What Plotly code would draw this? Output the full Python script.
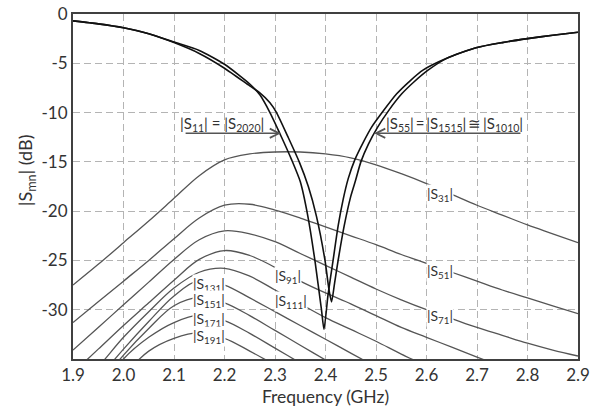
import plotly.graph_objects as go

# ---------------- data ----------------
freq = [1.90, 1.95, 2.00, 2.05, 2.10, 2.15, 2.20, 2.25, 2.30, 2.35, 2.40,
        2.45, 2.50, 2.55, 2.60, 2.65, 2.70, 2.75, 2.80, 2.85, 2.90]

s31 = [-27.5, -25.4, -23.2, -21.0, -18.7, -16.4, -14.8, -14.2, -14.0, -14.0, -14.2,
       -14.6, -15.3, -16.2, -17.2, -18.3, -19.4, -20.4, -21.4, -22.3, -23.2]
s51 = [-31.3, -29.2, -27.1, -25.0, -22.8, -20.7, -19.4, -19.3, -19.9, -20.7, -21.6,
       -22.5, -23.4, -24.4, -25.3, -26.2, -27.1, -28.0, -28.8, -29.6, -30.4]
s71 = [-34.1, -31.8, -29.5, -27.2, -24.9, -22.9, -22.0, -22.3, -23.1, -24.3, -25.5,
       -26.7, -27.9, -29.0, -30.0, -30.9, -31.8, -32.6, -33.4, -34.1, -34.7]
s91 = [-36.4, -34.0, -31.6, -29.3, -27.0, -24.9, -24.0, -24.5, -25.7, -27.1, -28.3,
       -29.4, -30.6, -31.8, -32.8, -33.8, -34.8, -35.8, -36.8, -37.8, -38.8]
s111 = [-38.5, -35.8, -32.8, -30.2, -27.8, -26.2, -25.8, -26.6, -28.0, -29.4, -30.8,
        -32.0, -33.2, -34.5, -35.7, -36.9, -38.1, -39.3, -40.5, -41.7, -42.9]
s131 = [-40.0, -37.0, -34.0, -31.2, -28.6, -27.0, -27.5, -28.8, -30.2, -31.6, -33.0,
        -34.4, -35.8, -37.2, -38.6, -40.0, -41.4, -42.8, -44.2, -45.6, -47.0]
s151 = [-41.0, -37.8, -34.6, -31.9, -29.6, -28.75, -29.3, -30.6, -32.1, -33.6, -35.1,
        -36.6, -38.1, -39.6, -41.1, -42.6, -44.1, -45.6, -47.1, -48.6, -50.1]
s171 = [-42.0, -38.5, -35.0, -32.8, -31.3, -30.55, -31.1, -32.4, -33.9, -35.4, -36.9,
        -38.4, -39.9, -41.4, -42.9, -44.4, -45.9, -47.4, -48.9, -50.4, -51.9]
s191 = [-43.5, -40.0, -36.7, -34.2, -32.9, -32.35, -32.9, -34.2, -35.6, -37.0, -38.4,
        -39.8, -41.2, -42.6, -44.0, -45.4, -46.8, -48.2, -49.6, -51.0, -52.4]

# |S11| = |S2020|
fa = [1.90, 1.95, 2.00, 2.05, 2.10, 2.15, 2.20, 2.25, 2.27, 2.29, 2.313, 2.333,
      2.35, 2.365, 2.379, 2.392, 2.397, 2.405, 2.415, 2.425, 2.435, 2.445, 2.458,
      2.475, 2.491, 2.515, 2.541, 2.567, 2.593, 2.64, 2.70, 2.75, 2.80, 2.85, 2.90]
sa = [-0.7, -1.0, -1.4, -2.0, -2.85, -3.7, -5.1, -7.1, -8.2, -10.0, -12.5, -14.8,
      -17.0, -20.5, -25.0, -30.0, -32.0, -28.5, -25.0, -21.5, -18.8, -16.7, -14.8,
      -13.0, -11.5, -9.8, -8.1, -6.8, -5.7, -4.5, -3.4, -2.9, -2.5, -2.15, -1.85]

# |S55| = |S1515| ~ |S1010|
fb = [1.90, 1.95, 2.00, 2.05, 2.10, 2.15, 2.20, 2.25, 2.27, 2.29, 2.303, 2.326,
      2.348, 2.366, 2.382, 2.399, 2.407, 2.412, 2.418, 2.425, 2.437, 2.45, 2.46,
      2.47, 2.485, 2.503, 2.525, 2.551, 2.575, 2.603, 2.64, 2.70, 2.75, 2.80, 2.85, 2.90]
sb = [-0.7, -1.0, -1.4, -2.0, -2.9, -4.0, -5.5, -7.3, -8.0, -9.0, -10.0, -12.5,
      -15.0, -17.5, -20.5, -25.0, -28.0, -29.2, -27.3, -25.0, -21.5, -18.5, -16.8,
      -15.0, -13.2, -11.5, -9.8, -8.1, -6.9, -5.7, -4.5, -3.4, -2.9, -2.5, -2.15, -1.85]

x_ticks = [1.9, 2.0, 2.1, 2.2, 2.3, 2.4, 2.5, 2.6, 2.7, 2.8, 2.9]
x_ticktext = ["1.9", "2.0", "2.1", "2.2", "2.3", "2.4", "2.5", "2.6", "2.7", "2.8", "2.9"]
y_ticks = [0, -5, -10, -15, -20, -25, -30]
y_ticktext = ["0", "-5", "-10", "-15", "-20", "-25", "-30"]

coupling = [("S31", s31), ("S51", s51), ("S71", s71), ("S91", s91), ("S111", s111),
            ("S131", s131), ("S151", s151), ("S171", s171), ("S191", s191)]

# label positions (frequency, dB) and subscript text
labels = [("31", 2.627, -18.3), ("51", 2.627, -26.1), ("71", 2.627, -30.7),
          ("91", 2.326, -26.6), ("111", 2.331, -29.15),
          ("131", 2.170, -27.4), ("151", 2.170, -29.1), ("171", 2.170, -30.95),
          ("191", 2.170, -32.7)]

FONT = "Lato"
TXT = "#333333"

fig = go.Figure()
for name, vals in coupling:
    fig.add_trace(go.Scatter(x=freq, y=vals, mode="lines", name=name,
                             line=dict(color="#555555", width=1.3, shape="spline", smoothing=1.0),
                             showlegend=False, hoverinfo="skip"))

fig.add_trace(go.Scatter(x=fa, y=sa, mode="lines", name="S11",
                         line=dict(color="#111111", width=1.6, shape="spline", smoothing=0.6),
                         showlegend=False))
fig.add_trace(go.Scatter(x=fb, y=sb, mode="lines", name="S55",
                         line=dict(color="#111111", width=1.6, shape="spline", smoothing=0.6),
                         showlegend=False))

annotations = []
for sub, lx, ly in labels:
    annotations.append(dict(x=lx, y=ly, xref="x", yref="y", showarrow=False,
                            text="|S<sub>%s</sub>|" % sub, bgcolor="white", borderpad=0,
                            font=dict(family=FONT, size=14, color=TXT)))

# arrows
annotations.append(dict(x=2.312, y=-12.1, ax=2.12, ay=-12.1, xref="x", yref="y",
                        axref="x", ayref="y", text="", showarrow=True, arrowhead=5,
                        arrowsize=1.3, arrowwidth=1.4, arrowcolor="#555555"))
annotations.append(dict(x=2.496, y=-12.1, ax=2.789, ay=-12.1, xref="x", yref="y",
                        axref="x", ayref="y", text="", showarrow=True, arrowhead=5,
                        arrowsize=1.3, arrowwidth=1.4, arrowcolor="#555555"))
annotations.append(dict(x=2.195, y=-11.2, xref="x", yref="y", showarrow=False,
                        text="|S<sub>11</sub>| = |S<sub>2020</sub>|",
                        font=dict(family=FONT, size=15, color=TXT)))
annotations.append(dict(x=2.656, y=-11.2, xref="x", yref="y", showarrow=False,
                        text="|S<sub>55</sub>|\u2009=\u2009|S<sub>1515</sub>|\u2009≅\u2009|S<sub>1010</sub>|",
                        font=dict(family=FONT, size=15, color=TXT)))
# y-axis title
annotations.append(dict(x=-0.091, y=0.545, xref="paper", yref="paper", showarrow=False,
                        text="|S<sub>mn</sub>| (dB)", textangle=-90,
                        xanchor="center", yanchor="middle",
                        font=dict(family=FONT, size=18, color=TXT)))

fig.update_layout(
    width=602, height=410,
    margin=dict(l=73, r=24, t=14, b=51),
    paper_bgcolor="white", plot_bgcolor="white",
    font=dict(family=FONT, size=16, color=TXT),
    annotations=annotations,
    xaxis=dict(range=[1.9, 2.9], tickvals=x_ticks, ticktext=x_ticktext, automargin=False,
               showgrid=True, gridcolor="#b4b4b4", gridwidth=1, griddash="7px,4px",
               showline=True, mirror=True, linecolor="#404040", linewidth=2,
               zeroline=False, ticks="", tickfont=dict(family=FONT, size=17, color=TXT),
               title=dict(text="Frequency (GHz)", standoff=6,
                          font=dict(family=FONT, size=17.5, color=TXT))),
    yaxis=dict(range=[-35, 0], tickvals=y_ticks, ticktext=y_ticktext, automargin=False,
               showgrid=True, gridcolor="#b4b4b4", gridwidth=1, griddash="7px,4px",
               showline=True, mirror=True, linecolor="#404040", linewidth=2,
               zeroline=False, ticks="", tickfont=dict(family=FONT, size=17, color=TXT)),
)

fig.write_html("out.html", config={"displayModeBar": False},
               post_script="document.body.style.margin='0px';")
